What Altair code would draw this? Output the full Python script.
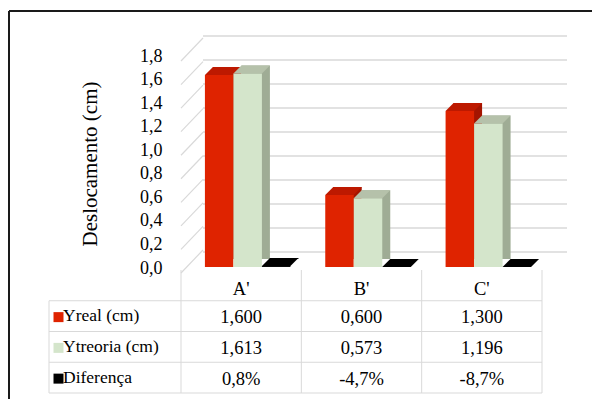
import altair as alt
import pandas as pd

# ---- data -----------------------------------------------------------------
categories = ["A'", "B'", "C'"]
series_names = ["Yreal (cm)", "Ytreoria (cm)", "Diferença"]
yreal = [1.600, 0.600, 1.300]
yteoria = [1.613, 0.573, 1.196]
diferenca_pct = [0.8, -4.7, -8.7]
y_ticks = [0.0, 0.2, 0.4, 0.6, 0.8, 1.0, 1.2, 1.4, 1.6, 1.8]

# ---- styling --------------------------------------------------------------
front_colors = ["#DF2300", "#D4E5CB", "#000000"]
top_colors = ["#BD1900", "#B5C1AA", "#000000"]
side_colors = ["#A41400", "#9FAC95", "#000000"]
GRID = "#D9D9D9"
SERIF = "Liberation Serif"

W, H = 361, 216          # plot area (floor front edge to top of scale)
BAR_W = 28.5             # width of one column face
DEPTH = 8                # pseudo-3D depth in pixels
SHIFT = 6.5              # column group shift to the right of the band centre
PAD_L, PAD_T = 181, 51

k = 2 * DEPTH / BAR_W
TOP_FACE = f"M -1 0 L 1 0 L {1 + k:.4f} {-k:.4f} L {-1 + k:.4f} {-k:.4f} Z"


def fmt_cm(v):
    return f"{v:.3f}".replace(".", ",")


def fmt_pct(p):
    return f"{p:.1f}%".replace(".", ",")


series_values = [yreal, yteoria, [p / 100 for p in diferenca_pct]]
series_labels = [
    [fmt_cm(v) for v in yreal],
    [fmt_cm(v) for v in yteoria],
    [fmt_pct(p) for p in diferenca_pct],
]

records = []
for s, name in enumerate(series_names):
    for c, cat in enumerate(categories):
        records.append({"cat": cat, "series": name,
                        "value": series_values[s][c], "label": series_labels[s][c]})
df = pd.DataFrame(records)
tick_df = pd.DataFrame({"v": y_ticks})
cat_df = pd.DataFrame({"cat": categories})

# ---- scales / encodings ---------------------------------------------------
x_enc = alt.X("cat:N", scale=alt.Scale(domain=categories, paddingInner=0, paddingOuter=0), axis=None)
bar_scale = alt.Scale(domain=[0, 1.8], nice=False, zero=True, clamp=True)
label_scale = alt.Scale(domain=[0, 1.8], range=[217, 5], nice=False)
y_bar = alt.Y("value:Q", scale=bar_scale, axis=None)

layers = []

# left wall lines, carrying the value axis
wall = alt.Chart(tick_df).mark_rule(color=GRID, strokeWidth=1.2, yOffset=5, y2Offset=-18).encode(
    x=alt.value(0), x2=alt.value(22),
    y=alt.Y("v:Q", scale=label_scale, axis=alt.Axis(
        values=y_ticks,
        labelExpr="replace(format(datum.value, '.1f'), '.', ',')",
        domain=False, ticks=False, tickSize=0, grid=False,
        labelFont=SERIF, labelFontSize=18, labelColor="#000000", labelPadding=19,
        title="Deslocamento (cm)", titleFont=SERIF, titleFontSize=21,
        titleFontWeight="normal", titleColor="#000000",
        titleAngle=-90, titleX=-85, titleY=112.5,
        titleAlign="center", titleBaseline="alphabetic",
    )),
    y2="v:Q",
)
layers.append(wall)

# back wall gridlines
back_grid = alt.Chart(tick_df).mark_rule(color=GRID, strokeWidth=1.5, yOffset=-15).encode(
    x=alt.value(22), x2=alt.value(W + 25),
    y=alt.Y("v:Q", scale=bar_scale, axis=None),
)
layers.append(back_grid)

# columns: side face, front face, top face for each series
for i, name in enumerate(series_names):
    sub = alt.Chart(df).transform_filter(alt.datum.series == name)
    off = SHIFT + (i - 1) * BAR_W
    side = sub.mark_bar(width=BAR_W, xOffset=off + DEPTH, yOffset=-DEPTH, y2Offset=-DEPTH,
                        color=side_colors[i]).encode(x=x_enc, y=y_bar, y2=alt.datum(0))
    front = sub.mark_bar(width=BAR_W, xOffset=off,
                         color=front_colors[i]).encode(x=x_enc, y=y_bar, y2=alt.datum(0))
    top = sub.mark_point(shape=TOP_FACE, size=BAR_W ** 2, filled=True, opacity=1,
                         strokeWidth=0, color=top_colors[i], xOffset=off).encode(x=x_enc, y=y_bar)
    layers += [side, front, top]

# ---- data table -----------------------------------------------------------
ROW_TOP = 219            # header row top (plot coords)
ROW_H = 30.75
row_centers = [ROW_TOP + ROW_H * (r + 1.5) for r in range(3)]
table_left = -132
line_kw = dict(color=GRID, strokeWidth=1)
text_kw = dict(font=SERIF, fontSize=18.5, color="#000000", baseline="middle")

# horizontal lines
for r in range(4):
    yy = ROW_TOP + ROW_H * (r + 1)
    layers.append(alt.Chart(cat_df.head(1)).mark_rule(**line_kw).encode(
        x=alt.value(table_left), x2=alt.value(W), y=alt.value(yy)))
# vertical lines between the category columns
for bp, cats in ((0, categories), (1, categories[-1:])):
    layers.append(alt.Chart(pd.DataFrame({"cat": cats})).mark_rule(**line_kw).encode(
        x=alt.X("cat:N", bandPosition=bp, scale=alt.Scale(domain=categories, paddingInner=0, paddingOuter=0), axis=None),
        y=alt.value(ROW_TOP), y2=alt.value(ROW_TOP + ROW_H * 4)))
layers.append(alt.Chart(cat_df.head(1)).mark_rule(**line_kw).encode(
    x=alt.value(table_left), y=alt.value(ROW_TOP + ROW_H), y2=alt.value(ROW_TOP + ROW_H * 4)))

# header
layers.append(alt.Chart(cat_df).mark_text(**text_kw).encode(
    x=x_enc, y=alt.value(ROW_TOP + ROW_H * 0.5 + 4), text="cat:N"))

for i, name in enumerate(series_names):
    yc = row_centers[i]
    sub = alt.Chart(df).transform_filter(alt.datum.series == name)
    layers.append(sub.mark_text(**text_kw).encode(
        x=x_enc, y=alt.value(yc + 1), text="label:N"))
    name_df = pd.DataFrame({"series": [name]})
    layers.append(alt.Chart(name_df).mark_square(size=100, filled=True, opacity=1,
                                                 color=front_colors[i]).encode(
        x=alt.value(58.5 - PAD_L), y=alt.value(yc + 1)))
    layers.append(alt.Chart(name_df).mark_text(align="left", font=SERIF, fontSize=17.5,
                                               color="#000000", baseline="middle").encode(
        x=alt.value(63 - PAD_L), y=alt.value(yc), text="series:N"))

# chart area border (top and left edges fall inside the canvas)
frame_df = cat_df.head(1)
layers.append(alt.Chart(frame_df).mark_rule(color="#1A1A1A", strokeWidth=2).encode(
    x=alt.value(9 - PAD_L), x2=alt.value(W + 60), y=alt.value(11 - PAD_T)))
layers.append(alt.Chart(frame_df).mark_rule(color="#1A1A1A", strokeWidth=2).encode(
    x=alt.value(9 - PAD_L), y=alt.value(11 - PAD_T), y2=alt.value(H + 140)))

chart = alt.layer(*layers).resolve_scale(y="independent").properties(
    width=W, height=H,
    padding={"left": PAD_L, "top": PAD_T, "right": 592 - PAD_L - W, "bottom": 399 - PAD_T - H},
    autosize=alt.AutoSizeParams(type="none"),
    background="white",
).configure_view(stroke=None).configure_text(font=SERIF)

chart.save("out.html", embed_options={"renderer": "svg", "actions": False})
